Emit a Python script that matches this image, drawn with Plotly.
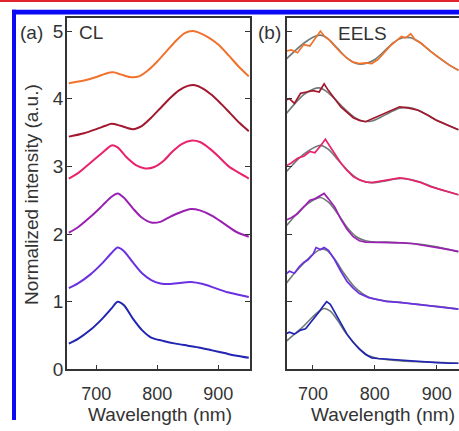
import plotly.graph_objects as go

# ---------------- data ----------------
# (a) cathodoluminescence spectra, stacked with offsets (bottom -> top)
cl_wl = [[655, 670, 690, 710, 725, 735, 745, 760, 775, 790, 810, 830, 850, 870, 890, 910, 930, 950],
         [655, 670, 690, 710, 725, 735, 745, 760, 775, 790, 805, 820, 840, 855, 875, 895, 915, 935, 950],
         [655, 670, 690, 710, 725, 735, 745, 760, 775, 790, 805, 820, 840, 855, 870, 890, 910, 930, 950],
         [655, 670, 690, 710, 725, 735, 750, 765, 780, 795, 810, 825, 840, 855, 870, 885, 900, 917, 935, 950],
         [655, 680, 700, 715, 725, 740, 760, 775, 790, 805, 820, 835, 850, 862, 875, 890, 905, 920, 935, 950],
         [655, 680, 700, 715, 728, 740, 755, 770, 785, 800, 815, 830, 845, 858, 870, 885, 900, 917, 933, 950]]
cl_int = [[0.38, 0.45, 0.58, 0.75, 0.90, 1.00, 0.95, 0.75, 0.58, 0.47, 0.42, 0.38, 0.35, 0.32, 0.28, 0.24, 0.20, 0.17],
          [1.20, 1.27, 1.40, 1.57, 1.72, 1.80, 1.75, 1.58, 1.42, 1.32, 1.27, 1.26, 1.28, 1.29, 1.26, 1.20, 1.14, 1.10, 1.07],
          [2.02, 2.10, 2.25, 2.42, 2.55, 2.60, 2.54, 2.38, 2.24, 2.17, 2.18, 2.25, 2.33, 2.37, 2.35, 2.27, 2.15, 2.03, 1.96],
          [2.82, 2.90, 3.05, 3.20, 3.31, 3.28, 3.13, 3.02, 2.97, 2.99, 3.08, 3.22, 3.33, 3.38, 3.36, 3.27, 3.15, 3.00, 2.90, 2.82],
          [3.44, 3.49, 3.55, 3.60, 3.63, 3.60, 3.55, 3.60, 3.72, 3.86, 4.00, 4.12, 4.19, 4.20, 4.15, 4.05, 3.92, 3.78, 3.64, 3.52],
          [4.23, 4.27, 4.32, 4.37, 4.39, 4.36, 4.32, 4.33, 4.42, 4.55, 4.70, 4.85, 4.97, 5.00, 4.97, 4.90, 4.80, 4.64, 4.48, 4.33]]

# (b) EELS spectra: measured (raw) and fitted curves (bottom -> top)
eels_raw_wl = [[655, 662, 670, 680, 688, 695, 702, 710, 716, 722, 728, 735, 745, 755, 765, 775, 785, 795, 805, 820, 840, 860, 880, 900, 920, 935],
               [655, 662, 670, 678, 685, 692, 700, 705, 712, 718, 725, 735, 745, 755, 765, 775, 790, 805, 820, 840, 860, 880, 900, 920, 935],
               [655, 665, 675, 685, 695, 703, 710, 718, 725, 735, 745, 755, 765, 775, 785, 800, 815, 830, 845, 860, 875, 890, 905, 920, 935],
               [655, 665, 675, 685, 695, 703, 712, 720, 727, 735, 745, 755, 765, 775, 785, 795, 810, 825, 840, 850, 860, 875, 890, 905, 920, 935],
               [655, 662, 670, 680, 690, 700, 710, 718, 725, 735, 745, 755, 765, 775, 785, 795, 805, 815, 825, 840, 855, 870, 885, 900, 920, 935],
               [655, 665, 675, 685, 695, 705, 712, 718, 725, 735, 745, 755, 765, 775, 785, 795, 805, 815, 825, 835, 843, 850, 858, 865, 875, 890, 905, 920, 935]]
eels_raw_int = [[0.52, 0.55, 0.52, 0.58, 0.60, 0.68, 0.75, 0.85, 0.93, 1.00, 0.96, 0.85, 0.68, 0.52, 0.40, 0.30, 0.22, 0.17, 0.16, 0.15, 0.13, 0.12, 0.11, 0.10, 0.09, 0.09],
                [1.40, 1.45, 1.42, 1.52, 1.58, 1.62, 1.70, 1.80, 1.77, 1.80, 1.76, 1.62, 1.45, 1.30, 1.20, 1.12, 1.06, 1.03, 1.00, 0.99, 0.97, 0.95, 0.93, 0.91, 0.89],
                [2.20, 2.24, 2.30, 2.40, 2.50, 2.52, 2.56, 2.60, 2.52, 2.40, 2.22, 2.07, 1.96, 1.90, 1.88, 1.88, 1.88, 1.88, 1.87, 1.86, 1.84, 1.82, 1.80, 1.77, 1.74],
                [3.00, 3.05, 3.12, 3.15, 3.22, 3.20, 3.30, 3.40, 3.30, 3.18, 3.05, 2.94, 2.85, 2.80, 2.77, 2.76, 2.78, 2.80, 2.83, 2.82, 2.80, 2.76, 2.70, 2.66, 2.62, 2.58],
                [3.98, 4.00, 3.93, 4.08, 4.10, 4.12, 4.10, 4.22, 4.12, 4.00, 3.88, 3.80, 3.72, 3.68, 3.66, 3.70, 3.74, 3.78, 3.82, 3.88, 3.86, 3.83, 3.76, 3.68, 3.60, 3.54],
                [4.70, 4.72, 4.68, 4.80, 4.78, 4.90, 5.00, 4.93, 4.88, 4.78, 4.68, 4.60, 4.54, 4.52, 4.53, 4.52, 4.58, 4.68, 4.78, 4.86, 4.92, 4.90, 4.96, 4.87, 4.82, 4.70, 4.60, 4.50, 4.42]]
eels_fit_wl = [[655, 670, 685, 700, 710, 718, 728, 740, 752, 765, 778, 790, 805, 825, 850, 880, 910, 935],
               [655, 670, 685, 700, 712, 722, 735, 750, 765, 780, 795, 810, 830, 850, 870, 890, 910, 935],
               [655, 670, 685, 700, 712, 725, 740, 755, 770, 785, 800, 820, 840, 860, 880, 900, 920, 935],
               [655, 670, 685, 700, 712, 725, 740, 755, 770, 785, 800, 815, 830, 845, 860, 875, 890, 905, 920, 935],
               [655, 670, 685, 700, 710, 720, 735, 750, 765, 780, 795, 810, 825, 840, 855, 870, 885, 900, 920, 935],
               [655, 670, 685, 700, 712, 725, 740, 755, 770, 785, 800, 815, 830, 845, 858, 870, 885, 900, 920, 935]]
eels_fit_int = [[0.40, 0.52, 0.64, 0.78, 0.86, 0.90, 0.86, 0.72, 0.55, 0.40, 0.28, 0.20, 0.16, 0.14, 0.12, 0.11, 0.10, 0.09],
                [1.25, 1.42, 1.57, 1.70, 1.77, 1.76, 1.63, 1.42, 1.24, 1.12, 1.05, 1.02, 1.00, 0.98, 0.96, 0.94, 0.92, 0.89],
                [2.10, 2.26, 2.40, 2.50, 2.54, 2.47, 2.30, 2.10, 1.96, 1.90, 1.88, 1.88, 1.87, 1.86, 1.84, 1.81, 1.77, 1.74],
                [2.90, 3.05, 3.18, 3.27, 3.31, 3.25, 3.10, 2.95, 2.83, 2.77, 2.76, 2.78, 2.81, 2.82, 2.80, 2.76, 2.71, 2.66, 2.62, 2.58],
                [3.76, 3.92, 4.06, 4.14, 4.16, 4.12, 4.00, 3.86, 3.74, 3.67, 3.67, 3.73, 3.80, 3.86, 3.87, 3.83, 3.76, 3.68, 3.60, 3.54],
                [4.57, 4.70, 4.82, 4.91, 4.94, 4.88, 4.74, 4.60, 4.52, 4.52, 4.58, 4.70, 4.83, 4.90, 4.90, 4.85, 4.74, 4.63, 4.50, 4.42]]

colors = ["#2224b2", "#6a30e2", "#9a20b2", "#e8226c", "#a2182e", "#f0722c"]
fit_color = "#6f7a77"

x_ticks = [700, 800, 900]
x_tick_labels = ["700", "800", "900"]
top_ticks = [668, 728, 792, 855, 918]
y_ticks = [0, 1, 2, 3, 4, 5]
y_tick_labels = ["0", "1", "2", "3", "4", "5"]

# ---------------- figure ----------------
W, H = 459, 431
FONT = "Liberation Sans, Arial, sans-serif"
INK = "#333333"


def px(x):
    return x / W


def py(y):
    return 1 - y / H


fig = go.Figure()

for wl, val, c in zip(cl_wl, cl_int, colors):
    fig.add_trace(go.Scatter(x=wl, y=val, mode="lines", xaxis="x", yaxis="y",
                             line=dict(color=c, width=2, shape="spline", smoothing=0.8),
                             hoverinfo="skip", showlegend=False))

# fitted curve underneath, measured spectrum on top
for rw, rv, fw, fv, c in zip(eels_raw_wl, eels_raw_int, eels_fit_wl, eels_fit_int, colors):
    fig.add_trace(go.Scatter(x=fw, y=fv, mode="lines", xaxis="x2", yaxis="y2",
                             line=dict(color=fit_color, width=1.6, shape="spline", smoothing=0.8),
                             hoverinfo="skip", showlegend=False))
    fig.add_trace(go.Scatter(x=rw, y=rv, mode="lines", xaxis="x2", yaxis="y2",
                             line=dict(color=c, width=1.7),
                             hoverinfo="skip", showlegend=False))

y_dom = [py(379), py(18)]
xa_dom = [px(67), px(250)]
xb_dom = [px(287), 1.0]

axis_common = dict(showgrid=False, zeroline=False, showline=True, linecolor=INK, linewidth=1.6,
                   ticks="inside", ticklen=5, tickwidth=1.2, tickcolor=INK)
tick_font = dict(family=FONT, size=18, color=INK)

fig.update_layout(
    width=W, height=H,
    margin=dict(l=0, r=0, t=0, b=0),
    paper_bgcolor="white", plot_bgcolor="white",
    xaxis=dict(domain=xa_dom, range=[652, 952], anchor="y", mirror=True,
               tickvals=x_ticks, ticktext=x_tick_labels, ticklabelstandoff=7,
               tickfont=tick_font, **axis_common),
    yaxis=dict(domain=y_dom, range=[0, 5.2], anchor="x", mirror="ticks",
               tickvals=y_ticks, ticktext=y_tick_labels, ticklabelstandoff=-2,
               tickfont=dict(family=FONT, size=19, color=INK), **axis_common),
    xaxis2=dict(domain=xb_dom, range=[658, 936], anchor="y2", mirror=True,
                tickvals=x_ticks, ticktext=x_tick_labels, ticklabelstandoff=7,
                tickfont=tick_font, **axis_common),
    yaxis2=dict(domain=y_dom, range=[0, 5.2], anchor="x2", mirror=False,
                tickvals=y_ticks, showticklabels=False, **axis_common),
    xaxis3=dict(overlaying="x", side="top", range=[652, 952], anchor="y",
                showgrid=False, zeroline=False, showline=False, ticks="inside",
                ticklen=5, tickwidth=1.2, tickcolor=INK, tickvals=top_ticks,
                showticklabels=False),
    xaxis4=dict(overlaying="x2", side="top", range=[658, 936], anchor="y2",
                showgrid=False, zeroline=False, showline=False, ticks="inside",
                ticklen=5, tickwidth=1.2, tickcolor=INK, tickvals=top_ticks,
                showticklabels=False),
)

txt = dict(family=FONT, size=19, color=INK)
annotations = [
    dict(text="(a)", x=px(31), y=py(33), yanchor="middle"),
    dict(text="CL", x=px(91), y=py(33), yanchor="middle"),
    dict(text="(b)", x=px(269), y=py(33), yanchor="middle"),
    dict(text="EELS", x=px(362), y=py(34), yanchor="middle"),
    dict(text="Wavelength (nm)", x=px(160), y=0, yanchor="bottom", yshift=-6),
    dict(text="Wavelength (nm)", x=px(383), y=0, yanchor="bottom", yshift=-6),
    dict(text="Normalized intensity (a.u.)", x=px(32), y=py(200), yanchor="middle", textangle=-90),
]
for a in annotations:
    fig.add_annotation(xref="paper", yref="paper", showarrow=False,
                       xanchor="center", borderpad=0, font=txt, **a)

# page frame: thin red rule on top, blue border along top and left
fig.add_shape(type="rect", xref="paper", yref="paper", x0=0, x1=1, y0=py(2), y1=1,
              fillcolor="#e0252e", line_width=0)
fig.add_shape(type="rect", xref="paper", yref="paper", x0=px(12), x1=1, y0=py(15), y1=py(10),
              fillcolor="#0a0af5", line_width=0)
fig.add_shape(type="rect", xref="paper", yref="paper", x0=px(12), x1=px(16), y0=0, y1=py(10),
              fillcolor="#0a0af5", line_width=0)

fig.write_html("out.html")
